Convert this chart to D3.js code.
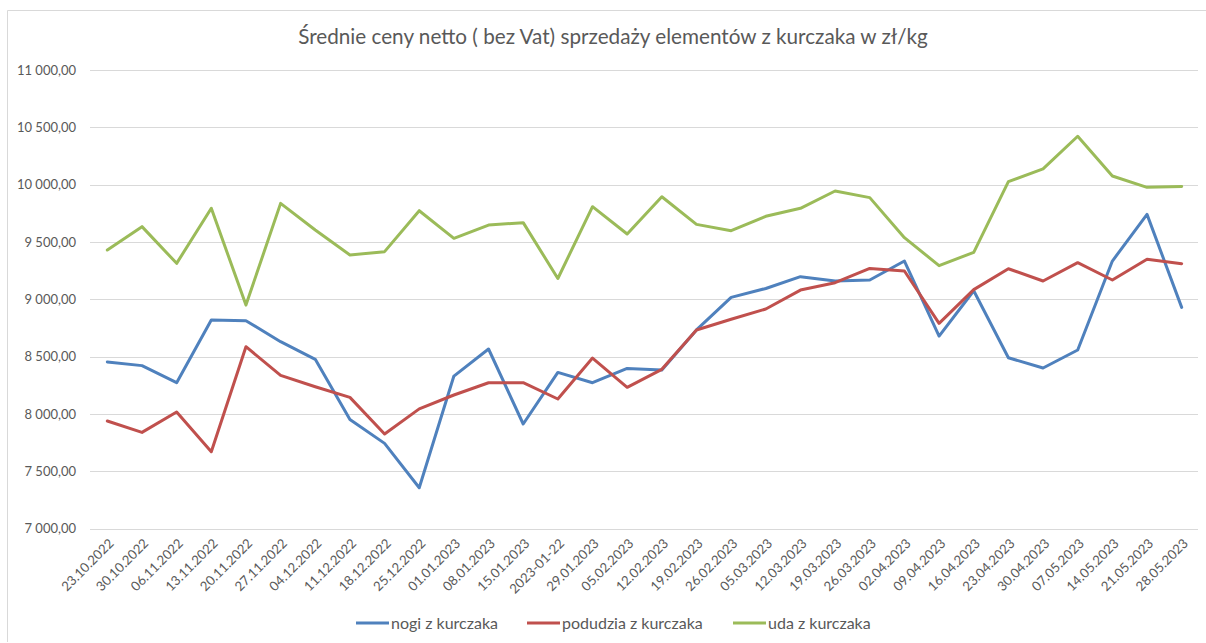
<!DOCTYPE html>
<html><head><meta charset="utf-8">
<script src="https://cdn.jsdelivr.net/npm/d3@7"></script>
<style>body{margin:0;background:#fff;} svg{display:block;font-family:Lato,"Open Sans",sans-serif;}</style>
</head><body>
<svg id="c" width="1206" height="643"></svg>
<script>
const categories = ["23.10.2022","30.10.2022","06.11.2022","13.11.2022","20.11.2022","27.11.2022","04.12.2022","11.12.2022","18.12.2022","25.12.2022","01.01.2023","08.01.2023","15.01.2023","2023-01-22","29.01.2023","05.02.2023","12.02.2023","19.02.2023","26.02.2023","05.03.2023","12.03.2023","19.03.2023","26.03.2023","02.04.2023","09.04.2023","16.04.2023","23.04.2023","30.04.2023","07.05.2023","14.05.2023","21.05.2023","28.05.2023"];
const nogi = [8454,8422,8273,8820,8814,8631,8477,7953,7744,7357,8331,8567,7913,8363,8273,8398,8384,8733,9017,9095,9198,9160,9169,9334,8680,9075,8491,8401,8558,9334,9741,8930];
const podudzia = [7939,7840,8017,7671,8587,8337,8238,8145,7826,8045,8166,8273,8273,8131,8488,8233,8390,8733,8826,8916,9081,9145,9270,9247,8791,9085,9267,9160,9320,9169,9349,9311];
const uda = [9430,9634,9314,9794,8950,9837,9605,9387,9416,9773,9532,9648,9669,9182,9808,9570,9895,9654,9599,9724,9794,9945,9887,9538,9294,9410,10026,10137,10422,10076,9977,9985];
const yTicks = [7000,7500,8000,8500,9000,9500,10000,10500,11000];
const seriesNames = ["nogi z kurczaka","podudzia z kurczaka","uda z kurczaka"];
const colors = ["#4F81BD","#C0504D","#9BBB59"];
const title = "Średnie ceny netto ( bez Vat) sprzedaży elementów z kurczaka w zł/kg";

const svg = d3.select("#c");
const textCol = "#595959";
// chart border
svg.append("path").attr("d","M1206,10.5 H7.5 V642").attr("fill","none").attr("stroke","#d9d9d9").attr("stroke-width",1);

const x = d3.scaleBand().domain(categories).range([90,1199]);
const y = d3.scaleLinear().domain([7000,11000]).range([528.7,70]);
const fmt = v => d3.format(",.2f")(v).replace(/,/g," ").replace(".",",");

// gridlines
svg.append("g").selectAll("line").data(yTicks).join("line")
  .attr("x1",90).attr("x2",1198).attr("y1",d=>Math.round(y(d))+0.5).attr("y2",d=>Math.round(y(d))+0.5)
  .attr("stroke","#d9d9d9").attr("stroke-width",1);

// y axis labels
const yAxis = d3.axisLeft(y).tickValues(yTicks).tickFormat(fmt).tickSize(0).tickPadding(0);
const ga = svg.append("g").attr("transform","translate(76,0)").call(yAxis);
ga.select(".domain").remove();
ga.selectAll("text").attr("fill",textCol).style("font-size","13px").style("font-family","Lato,sans-serif");

// x axis labels
const xAxis = d3.axisBottom(x).tickSize(0).tickPadding(0);
const gx = svg.append("g").attr("transform","translate(0,0)").call(xAxis);
gx.select(".domain").remove();
gx.selectAll(".tick").attr("transform",d=>`translate(${x(d)+x.bandwidth()/2+4},541)`);
gx.selectAll("text").attr("fill",textCol).style("font-size","13.2px").style("font-family","Lato,sans-serif")
  .attr("text-anchor","end").attr("dy","0.35em").attr("y",0).attr("transform","rotate(-45)");

// lines
const data = [nogi,podudzia,uda];
const line = d3.line().x((d,i)=>x(categories[i])+x.bandwidth()/2).y(d=>y(d));
svg.append("g").selectAll("path").data(data).join("path")
  .attr("d",line).attr("fill","none").attr("stroke",(d,i)=>colors[i])
  .attr("stroke-width",3).attr("stroke-linejoin","round").attr("stroke-linecap","round");

// title
svg.append("text").attr("x",613).attr("y",44).attr("text-anchor","middle")
  .attr("fill",textCol).style("font-size","20.7px").text(title);

// legend
const legX = [356,527,733];
const lg = svg.append("g");
seriesNames.forEach((n,i)=>{
  lg.append("line").attr("x1",legX[i]).attr("x2",legX[i]+33).attr("y1",623).attr("y2",623)
    .attr("stroke",colors[i]).attr("stroke-width",3);
  lg.append("text").attr("x",legX[i]+35).attr("y",629).attr("fill",textCol)
    .style("font-size","16px").text(n);
});
</script>
</body></html>
